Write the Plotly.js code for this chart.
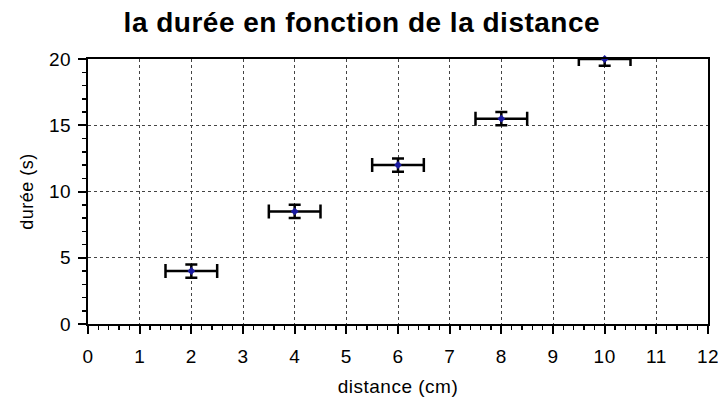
<!DOCTYPE html>
<html><head><meta charset="utf-8">
<script src="https://cdn.plot.ly/plotly-3.0.1.min.js"></script>
<style>
html,body{margin:0;padding:0;background:#fff}
#chart .xtick text, #chart .ytick text, #chart .xtitle, #chart .ytitle {letter-spacing:0.5px}
#chart .gtitle {letter-spacing:0.5px}
</style>
</head><body>
<div id="chart" style="width:718px;height:402px"></div>
<script>
const distance = [2, 4, 6, 8, 10];
const duree = [4, 8.5, 12, 15.5, 20];
const errDistance = [0.5, 0.5, 0.5, 0.5, 0.5];
const errDuree = [0.5, 0.5, 0.5, 0.5, 0.5];
const xTicks = [0,1,2,3,4,5,6,7,8,9,10,11,12];
const yTicks = [0,5,10,15,20];

const font = 'Liberation Sans, Arial, sans-serif';
Plotly.newPlot('chart', [{
  x: distance, y: duree, type: 'scatter', mode: 'markers',
  marker: {symbol: 'diamond', size: 6, color: '#1a1aa0'},
  error_x: {type: 'data', array: errDistance, visible: true, color: '#000', thickness: 2.5, width: 7},
  error_y: {type: 'data', array: errDuree, visible: true, color: '#000', thickness: 2.5, width: 6},
  cliponaxis: false, showlegend: false
}], {
  width: 718, height: 402,
  margin: {l: 88, r: 10, t: 59, b: 78},
  paper_bgcolor: '#fff', plot_bgcolor: '#fff',
  title: {text: '<b>la durée en fonction de la distance</b>', x: 0.504, xanchor: 'center',
          yref: 'container', y: 0.945, yanchor: 'middle',
          font: {family: font, size: 28, color: '#000'}},
  xaxis: {range: [0, 12], tickvals: xTicks, ticktext: xTicks.map(String),
          showline: true, linecolor: '#000', linewidth: 2, mirror: true,
          ticks: 'outside', ticklen: 8, tickwidth: 2, tickcolor: '#000', ticklabelstandoff: 6,
          ticklabeloverflow: 'allow',
          minor: {ticks: 'outside', dtick: 0.2, ticklen: 4, tickwidth: 1.5, tickcolor: '#000', showgrid: false},
          showgrid: true, gridcolor: '#444', griddash: 'dot', gridwidth: 1,
          zeroline: false, tickfont: {family: font, size: 19, color: '#000'},
          title: {text: 'distance (cm)', font: {family: font, size: 19, color: '#000'}, standoff: 14}},
  yaxis: {range: [0, 20], tickvals: yTicks, ticktext: yTicks.map(String),
          showline: true, linecolor: '#000', linewidth: 2, mirror: true,
          ticks: 'outside', ticklen: 8, tickwidth: 2, tickcolor: '#000', ticklabelstandoff: 3,
          ticklabeloverflow: 'allow',
          minor: {ticks: 'outside', dtick: 1, ticklen: 4, tickwidth: 1.5, tickcolor: '#000', showgrid: false},
          showgrid: true, gridcolor: '#444', griddash: 'dot', gridwidth: 1,
          zeroline: false, tickfont: {family: font, size: 19, color: '#000'},
          title: {text: 'durée (s)', font: {family: font, size: 18, color: '#000'}, standoff: 12}}
}, {staticPlot: true});
</script>
</body></html>
